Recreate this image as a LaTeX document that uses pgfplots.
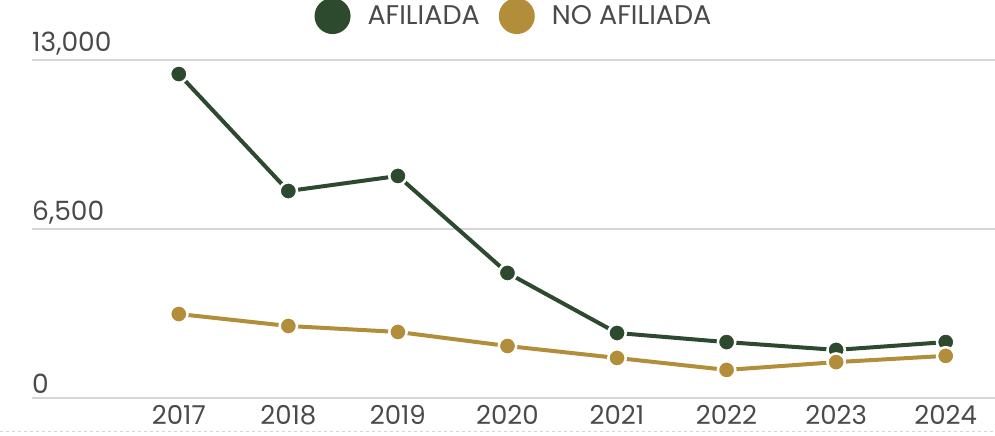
\documentclass[border=0pt]{standalone}
\usepackage{pgfplots}
\pgfplotsset{compat=1.18}
\usepackage{fontspec}
\setmainfont{Poppins}
\definecolor{afcol}{HTML}{2D4A2E}
\definecolor{nocol}{HTML}{B38E3A}
\definecolor{txt}{HTML}{4A4A4A}
\definecolor{gridc}{HTML}{D6D6D6}
\begin{document}
\begin{tikzpicture}
\useasboundingbox (0,0) rectangle (995bp,436bp);
\draw[gridc, dash pattern=on 3bp off 3bp, line width=1bp] (0,4bp) -- (995bp,4bp);
\begin{axis}[
  at={(32bp,38bp)}, anchor=south west,
  scale only axis, width=963bp, height=338bp,
  xmin=2015.66, xmax=2024.45, ymin=0, ymax=13000,
  clip=false,
  axis line style={draw=none},
  major tick length=0pt,
  scaled ticks=false,
  ymajorgrids, grid style={gridc, line width=2.6bp},
  ytick={0,6500,13000}, xtick={2017,...,2024},
  /pgf/number format/assume math mode=true,
  yticklabel style={/pgf/number format/1000 sep={,}, anchor=south west, inner sep=0pt, yshift=4.5bp, font=\fontsize{26.5bp}{30bp}\selectfont, text=txt},
  xticklabel style={/pgf/number format/1000 sep={}, anchor=north, inner sep=0pt, yshift=-7.5bp, font=\fontsize{26bp}{30bp}\selectfont, text=txt},
  legend columns=2,
  legend cell align=left,
  legend style={at={(0.5005,1.13)}, anchor=center, draw=none, fill=none,
    font=\fontsize{27bp}{31bp}\selectfont, text=txt,
    /tikz/every odd column/.append style={column sep=15bp},
    /tikz/every even column/.append style={column sep=17bp}},
]
\addplot[afcol, line width=4bp, mark=*, mark size=8.7bp,
  mark options={fill=afcol, draw=white, line width=2.5bp},
  legend image code/.code={\fill[afcol] (0bp,0bp) circle (16bp);}]
  coordinates {(2017,12460) (2018,7960) (2019,8540) (2020,4810) (2021,2500) (2022,2150) (2023,1850) (2024,2150)};
\addlegendentry{AFILIADA}
\addplot[nocol, line width=4bp, mark=*, mark size=8.7bp,
  mark options={fill=nocol, draw=white, line width=2.5bp},
  legend image code/.code={\fill[nocol] (0bp,0bp) circle (16bp);}]
  coordinates {(2017,3230) (2018,2770) (2019,2540) (2020,2000) (2021,1540) (2022,1080) (2023,1380) (2024,1620)};
\addlegendentry{NO AFILIADA}
\end{axis}
\end{tikzpicture}
\end{document}
